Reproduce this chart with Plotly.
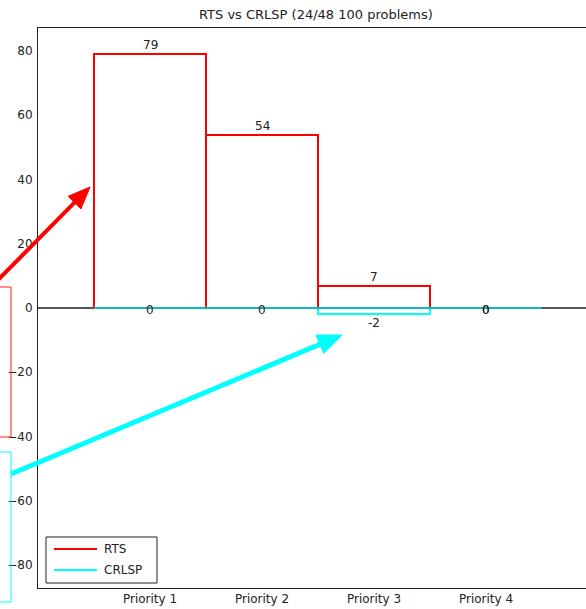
import plotly.graph_objects as go

# Data
categories = ["Priority 1", "Priority 2", "Priority 3", "Priority 4"]
positions = [1, 2, 3, 4]
series_names = ["RTS", "CRLSP"]
rts_values = [79, 54, 7, 0]
crlsp_values = [0, 0, -2, 0]
series_colors = ["#ff0000", "#00ffff"]
y_ticks = [-80, -60, -40, -20, 0, 20, 40, 60, 80]

FONT = "DejaVu Sans"
FIG_W, FIG_H = 586, 609
L, T, R, B = 38, 28, 0, 21
PW, PH = FIG_W - L - R, FIG_H - T - B


def px(x):
    return (x - L) / PW


def py(y):
    return (T + PH - y) / PH


fig = go.Figure()

for name, vals, col in zip(series_names, [rts_values, crlsp_values], series_colors):
    fig.add_trace(go.Bar(
        x=positions, y=vals, width=1.0, name=name,
        marker=dict(color="rgba(0,0,0,0)", line=dict(color=col, width=2)),
        showlegend=False, hoverinfo="skip",
    ))

# zero-height CRLSP bars show as an outline along the baseline
fig.add_trace(go.Scatter(
    x=[positions[0] - 0.5, positions[-1] + 0.5], y=[0, 0], mode="lines",
    line=dict(color="#10b8b8", width=2), showlegend=False, hoverinfo="skip",
))

# value labels
annotations = []
for vals in [rts_values, crlsp_values]:
    for xp, v in zip(positions, vals):
        if v > 0:
            ya, ys = "bottom", 0
        elif v < 0:
            ya, ys = "top", 0
        else:
            ya, ys = "middle", -2
        annotations.append(dict(
            x=xp, y=v, xref="x", yref="y", text=str(v), showarrow=False,
            yanchor=ya, xanchor="center", yshift=ys,
            font=dict(family=FONT, size=12, color="#222222"),
        ))

# title
annotations.append(dict(
    x=px(316), y=py(14), xref="paper", yref="paper", showarrow=False,
    text="RTS vs CRLSP (24/48 100 problems)", xanchor="center", yanchor="middle",
    font=dict(family=FONT, size=13, color="#222222"),
))

# legend
legend_rows = [549, 570]
for name, col, ry in zip(series_names, series_colors, legend_rows):
    annotations.append(dict(
        x=px(102), y=py(ry), xref="paper", yref="paper", showarrow=False,
        text=name, xanchor="left", yanchor="middle",
        font=dict(family=FONT, size=12, color="#222222"),
    ))

shapes = [
    dict(type="rect", xref="paper", yref="paper", x0=px(46), x1=px(157),
         y0=py(537), y1=py(583), line=dict(color="#222222", width=1),
         fillcolor="white", layer="above"),
]
for col, ry in zip(series_colors, legend_rows):
    shapes.append(dict(type="line", xref="paper", yref="paper", x0=px(54), x1=px(97),
                       y0=py(ry), y1=py(ry), line=dict(color=col, width=2), layer="above"))

# callout boxes at the left edge
shapes.append(dict(type="rect", xref="paper", yref="paper", x0=px(-10), x1=px(11),
                   y0=py(287), y1=py(437), line=dict(color="#ff2020", width=1), layer="above"))
shapes.append(dict(type="rect", xref="paper", yref="paper", x0=px(-10), x1=px(11),
                   y0=py(452), y1=py(602), line=dict(color="#00ffff", width=1), layer="above"))


def arrow(x0, y0, x1, y1, col, lw, head_len, head_half):
    dx, dy = x1 - x0, y1 - y0
    n = (dx * dx + dy * dy) ** 0.5
    ux, uy = dx / n, dy / n
    bx, by = x1 - head_len * ux, y1 - head_len * uy
    wx, wy = -uy * head_half, ux * head_half
    out = [dict(type="line", xref="paper", yref="paper", x0=px(x0), y0=py(y0),
                x1=px(bx + ux * 2), y1=py(by + uy * 2), line=dict(color=col, width=lw), layer="above")]
    path = "M{:.5f},{:.5f} L{:.5f},{:.5f} L{:.5f},{:.5f} Z".format(
        px(x1), py(y1), px(bx + wx), py(by + wy), px(bx - wx), py(by - wy))
    out.append(dict(type="path", xref="paper", yref="paper", path=path,
                    fillcolor=col, line=dict(color=col, width=1), layer="above"))
    return out


shapes += arrow(-10, 288, 90, 187, "#ff0000", 4, 22, 9)
shapes += arrow(11, 474, 342, 335, "#00ffff", 5, 24, 10)

y_half = 280 / 3.2125

fig.update_layout(
    width=FIG_W, height=FIG_H,
    margin=dict(l=L, r=R, t=T, b=B, pad=0),
    paper_bgcolor="white", plot_bgcolor="white",
    barmode="overlay", bargap=0,
    showlegend=False,
    font=dict(family=FONT, size=12, color="#222222"),
    xaxis=dict(
        range=[0, PW / 112.0], tickmode="array", tickvals=positions, ticktext=categories,
        showgrid=False, zeroline=False, showline=True, linecolor="#222222", linewidth=1,
        mirror=True, ticks="", tickfont=dict(family=FONT, size=12, color="#222222"),
    ),
    yaxis=dict(
        range=[-y_half, y_half], tickmode="array", tickvals=y_ticks,
        showgrid=False, zeroline=True, zerolinecolor="#555555", zerolinewidth=2,
        showline=True, linecolor="#222222", linewidth=1, mirror=False, ticks="",
        ticklabelstandoff=2,
        tickfont=dict(family=FONT, size=12, color="#222222"),
    ),
    annotations=annotations,
    shapes=shapes,
)

fig.write_html("out.html")
